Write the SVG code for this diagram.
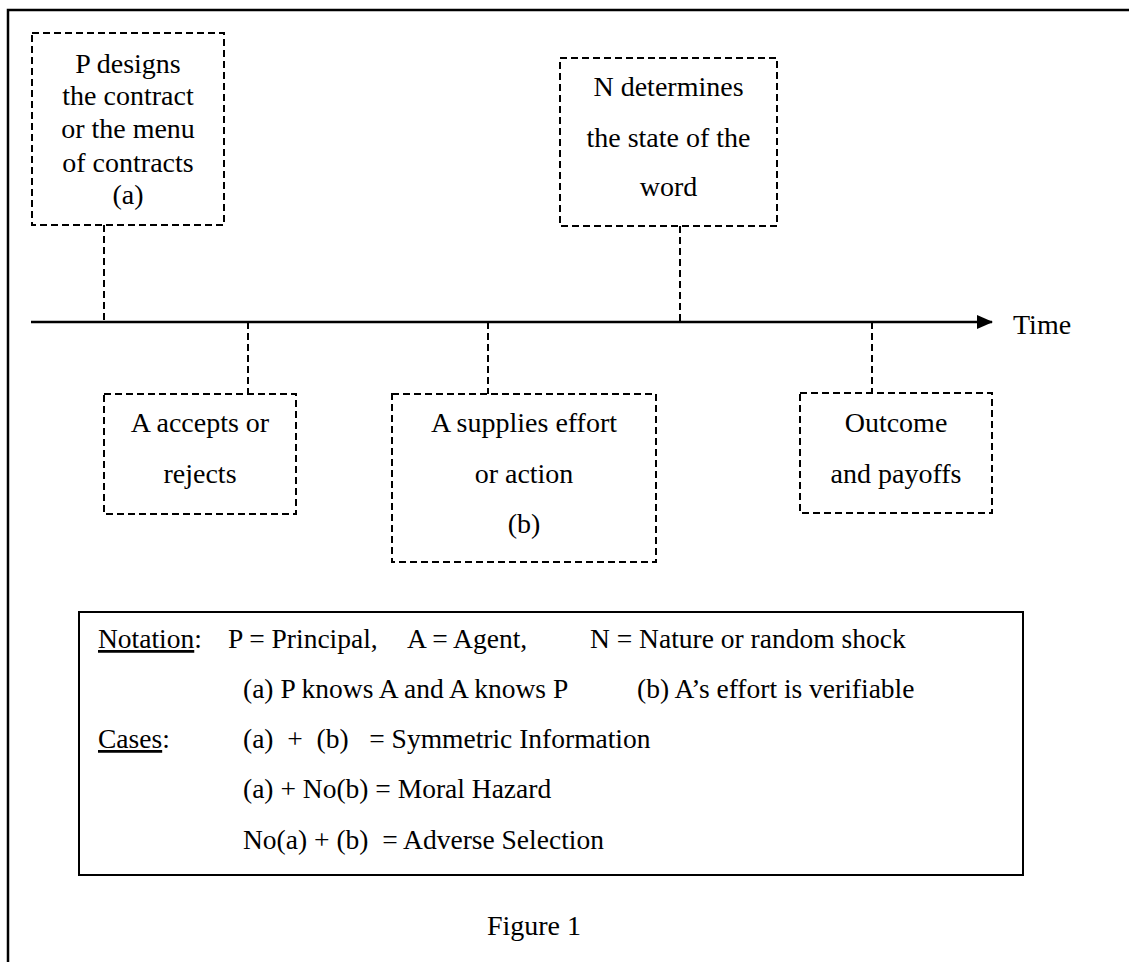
<svg xmlns="http://www.w3.org/2000/svg" width="1129" height="962" viewBox="0 0 1129 962">
<style>
  text { font-family: "Liberation Serif", "Times New Roman", serif; fill: #000; }
  .bx { font-size: 28px; text-anchor: middle; }
  .nt { font-size: 27.5px; }
  .dash { fill: none; stroke: #000; stroke-width: 2; stroke-dasharray: 7 4; }
  .solid { fill: none; stroke: #000; stroke-width: 2.5; }
</style>
<defs>
  <marker id="arr" markerWidth="16" markerHeight="14" refX="15" refY="7" orient="auto" markerUnits="userSpaceOnUse">
    <path d="M0,0 L16,7 L0,14 Z" fill="#000"/>
  </marker>
</defs>
<rect width="1129" height="962" fill="#fff"/>
<g id="frame">
  <path class="solid" d="M8,962 L8,10 L1129,10"/>
</g>
<g id="connectors">
  <line class="solid" x1="31" y1="322" x2="992" y2="322" marker-end="url(#arr)"/>
  <line class="dash" x1="104" y1="225" x2="104" y2="322"/>
  <line class="dash" x1="248" y1="322" x2="248" y2="394"/>
  <line class="dash" x1="488" y1="322" x2="488" y2="394"/>
  <line class="dash" x1="680" y1="226" x2="680" y2="322"/>
  <line class="dash" x1="872" y1="322" x2="872" y2="393"/>
</g>
<g id="node-p">
  <rect class="dash" x="32" y="33" width="192" height="192"/>
  <text class="bx" x="128" y="73">P designs</text>
  <text class="bx" x="128" y="105">the contract</text>
  <text class="bx" x="128" y="138">or the menu</text>
  <text class="bx" x="128" y="172">of contracts</text>
  <text class="bx" x="128" y="204">(a)</text>
</g>
<g id="node-n">
  <rect class="dash" x="560" y="58" width="217" height="168"/>
  <text class="bx" x="668.5" y="96">N determines</text>
  <text class="bx" x="668.5" y="147">the state of the</text>
  <text class="bx" x="668.5" y="196">word</text>
</g>
<g id="node-accept">
  <rect class="dash" x="104" y="394" width="192" height="120"/>
  <text class="bx" x="200" y="432">A accepts or</text>
  <text class="bx" x="200" y="483">rejects</text>
</g>
<g id="node-effort">
  <rect class="dash" x="392" y="394" width="264" height="168"/>
  <text class="bx" x="524" y="432">A supplies effort</text>
  <text class="bx" x="524" y="483">or action</text>
  <text class="bx" x="524" y="533">(b)</text>
</g>
<g id="node-outcome">
  <rect class="dash" x="800" y="393" width="192" height="120"/>
  <text class="bx" x="896" y="432">Outcome</text>
  <text class="bx" x="896" y="483">and payoffs</text>
</g>
<g id="time-label">
  <text x="1013" y="334" font-size="28">Time</text>
</g>
<g id="notation">
  <rect x="79" y="612" width="944" height="263" fill="none" stroke="#000" stroke-width="2"/>
  <text class="nt" x="98" y="648"><tspan text-decoration="underline">Notation</tspan>:</text>
  <text class="nt" x="228" y="648">P = Principal,</text>
  <text class="nt" x="407" y="648">A = Agent,</text>
  <text class="nt" x="590" y="648">N = Nature or random shock</text>
  <text class="nt" x="243" y="698">(a) P knows A and A knows P</text>
  <text class="nt" x="637" y="698">(b) A’s effort is verifiable</text>
  <text class="nt" x="98" y="748"><tspan text-decoration="underline">Cases</tspan>:</text>
  <text class="nt" x="243" y="748" xml:space="preserve">(a)  +  (b)   = Symmetric Information</text>
  <text class="nt" x="243" y="798">(a) + No(b) = Moral Hazard</text>
  <text class="nt" x="243" y="849" xml:space="preserve">No(a) + (b)  = Adverse Selection</text>
</g>
<g id="caption">
  <text x="534" y="935" font-size="28" text-anchor="middle">Figure 1</text>
</g>
</svg>
